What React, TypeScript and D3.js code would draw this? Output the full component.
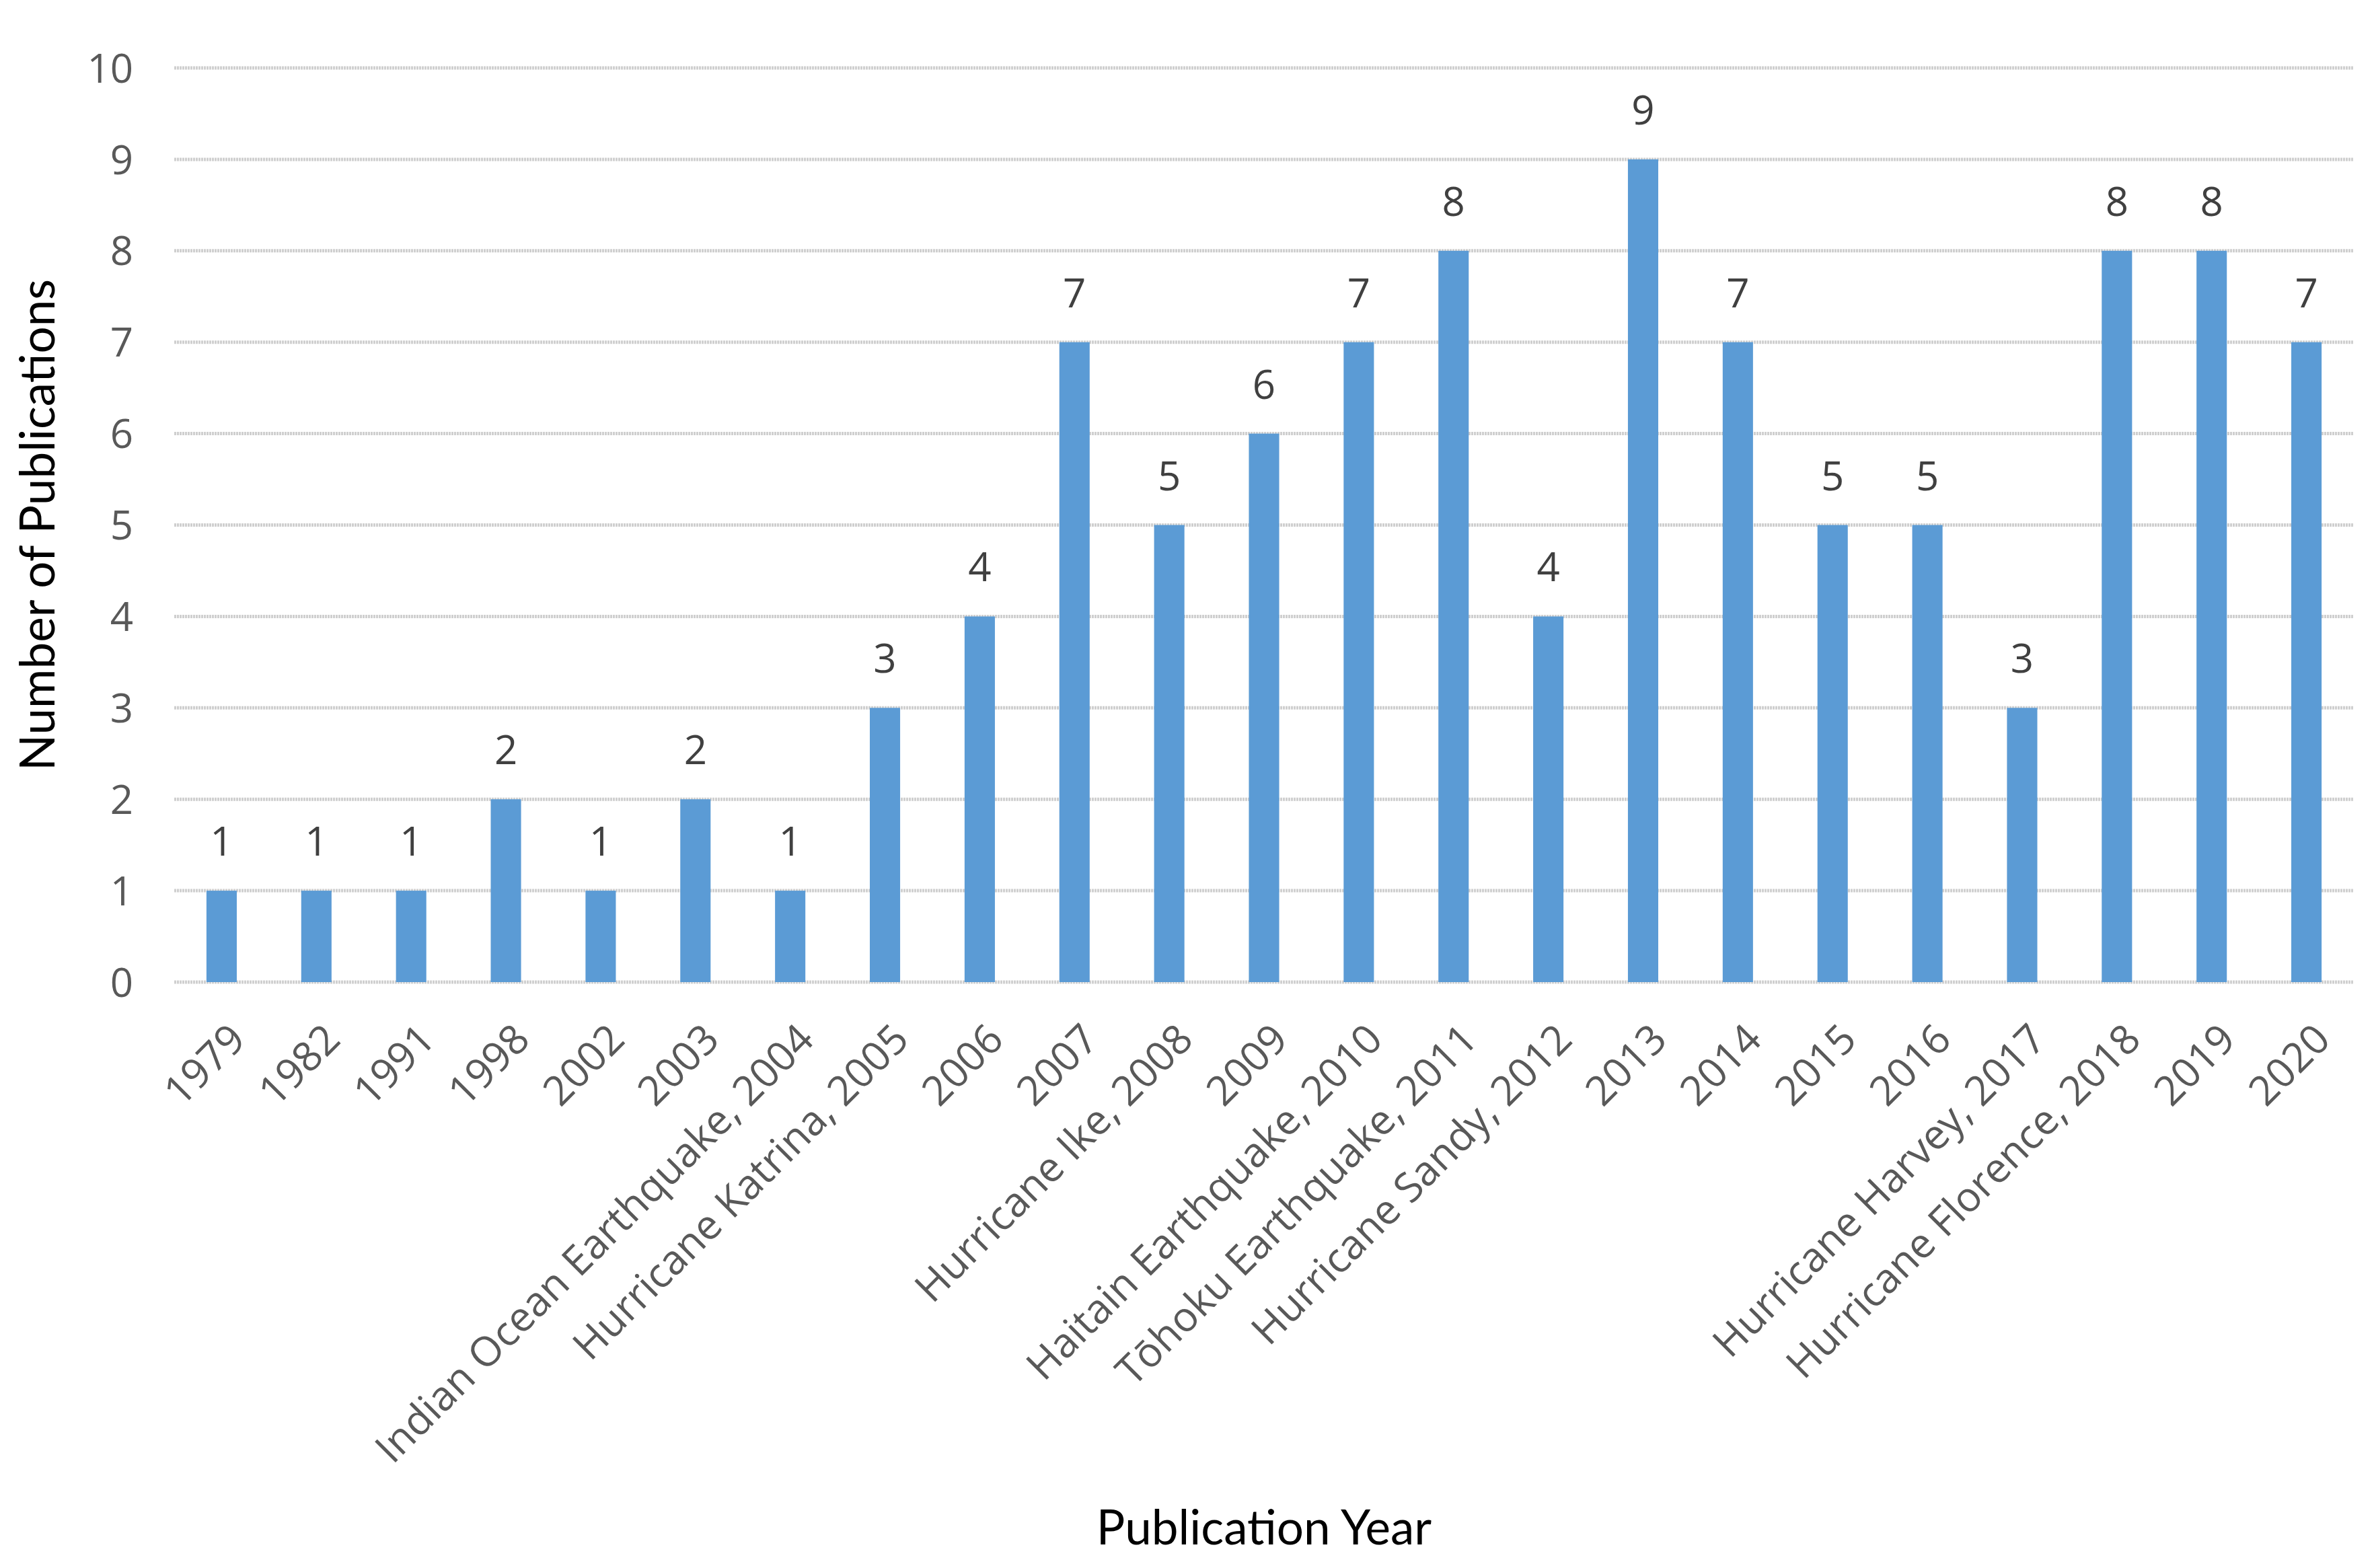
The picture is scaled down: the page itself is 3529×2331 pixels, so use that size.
import * as d3 from 'd3';
import { useEffect, useRef } from 'react';

const categories = [
  '1979',
  '1982',
  '1991',
  '1998',
  '2002',
  '2003',
  'Indian Ocean Earthquake, 2004',
  'Hurricane Katrina, 2005',
  '2006',
  '2007',
  'Hurricane Ike, 2008',
  '2009',
  'Haitain Earthquake, 2010',
  'Tōhoku Earthquake, 2011',
  'Hurricane Sandy, 2012',
  '2013',
  '2014',
  '2015',
  '2016',
  'Hurricane Harvey, 2017',
  'Hurricane Florence, 2018',
  '2019',
  '2020',
];
const publications = [1, 1, 1, 2, 1, 2, 1, 3, 4, 7, 5, 6, 7, 8, 4, 9, 7, 5, 5, 3, 8, 8, 7];
const yTicks = [0, 1, 2, 3, 4, 5, 6, 7, 8, 9, 10];

const width = 3529;
const height = 2331;
const margins = { top: 101, right: 30, bottom: 871, left: 259 };
const barColor = '#5b9bd5';
const tickFont = '"Open Sans", "Noto Sans", sans-serif';
const titleFont = 'Lato, "Open Sans", sans-serif';

export default function App() {
  const ref = useRef<SVGSVGElement>(null);

  useEffect(() => {
    const svg = d3.select(ref.current);
    svg.selectAll('*').remove();

    const x = d3
      .scaleBand()
      .domain(categories)
      .range([margins.left, width - margins.right])
      .paddingInner(0.68)
      .paddingOuter(0.34);

    const y = d3
      .scaleLinear()
      .domain([0, 10])
      .range([height - margins.bottom, margins.top]);

    svg.append('rect').attr('width', width).attr('height', height).attr('fill', '#fff');

    // gridlines
    svg
      .append('g')
      .selectAll('line')
      .data(yTicks)
      .enter()
      .append('line')
      .attr('x1', margins.left)
      .attr('x2', width - margins.right)
      .attr('y1', (d) => y(d))
      .attr('y2', (d) => y(d))
      .attr('stroke', '#cfcfcf')
      .attr('stroke-width', 5)
      .attr('stroke-dasharray', '3,1');

    // y tick labels
    svg
      .append('g')
      .selectAll('text')
      .data(yTicks)
      .enter()
      .append('text')
      .attr('x', margins.left - 61)
      .attr('y', (d) => y(d))
      .attr('dy', '0.36em')
      .attr('text-anchor', 'end')
      .style('font-family', tickFont)
      .style('font-size', '60px')
      .attr('fill', '#595959')
      .text((d) => d);

    // bars
    svg
      .append('g')
      .selectAll('rect')
      .data(publications)
      .enter()
      .append('rect')
      .attr('x', (_d, i) => x(categories[i])!)
      .attr('y', (d) => y(d))
      .attr('width', x.bandwidth())
      .attr('height', (d) => y(0) - y(d))
      .attr('fill', barColor);

    // data labels
    svg
      .append('g')
      .selectAll('text')
      .data(publications)
      .enter()
      .append('text')
      .attr('x', (_d, i) => x(categories[i])! + x.bandwidth() / 2)
      .attr('y', (d) => y(d) - 52)
      .attr('text-anchor', 'middle')
      .style('font-family', tickFont)
      .style('font-size', '60px')
      .attr('fill', '#404040')
      .text((d) => d);

    // x tick labels
    svg
      .append('g')
      .selectAll('text')
      .data(categories)
      .enter()
      .append('text')
      .attr(
        'transform',
        (d) => `translate(${x(d)! + x.bandwidth() / 2 + 8},${y(0) + 58}) rotate(-45)`
      )
      .attr('dy', '0.71em')
      .attr('text-anchor', 'end')
      .style('font-family', tickFont)
      .style('font-size', '61px')
      .attr('fill', '#595959')
      .text((d) => d);

    // axis titles
    svg
      .append('text')
      .attr('transform', `translate(56,${(y(0) + y(10)) / 2}) rotate(-90)`)
      .attr('dy', '0.35em')
      .attr('text-anchor', 'middle')
      .style('font-family', titleFont)
      .style('font-size', '71px')
      .attr('fill', '#000')
      .text('Number of Publications');

    svg
      .append('text')
      .attr('x', (margins.left + width - margins.right) / 2)
      .attr('y', 2296)
      .attr('text-anchor', 'middle')
      .style('font-family', titleFont)
      .style('font-size', '71px')
      .attr('fill', '#000')
      .text('Publication Year');
  }, []);

  return (
    <svg
      ref={ref}
      width={width}
      height={height}
      style={{ position: 'absolute', left: 0, top: 0, display: 'block' }}
    />
  );
}
